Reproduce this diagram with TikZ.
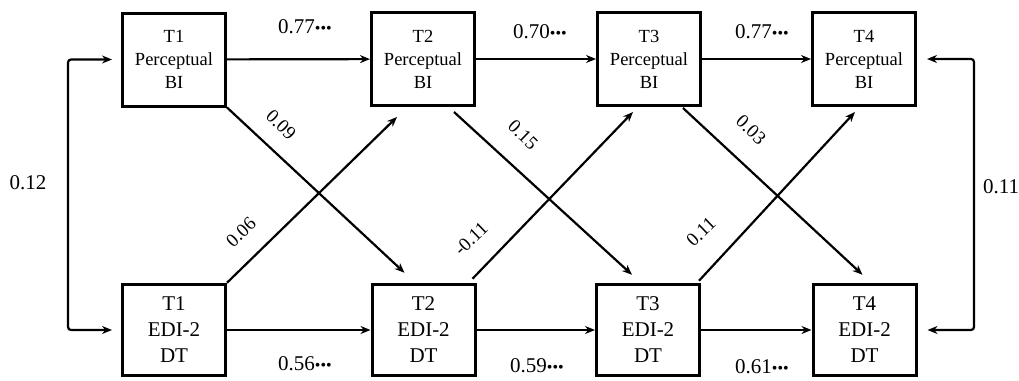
\documentclass[tikz,border=0pt]{standalone}
\usepackage{fontspec}
\setmainfont{Liberation Serif}
\usetikzlibrary{arrows.meta,calc}
\newcommand\sigdots{{\fontsize{16}{16}\selectfont •••}}
\begin{document}
\begin{tikzpicture}[x=1pt,y=-1pt,
  box/.style={draw,line width=3pt,minimum width=103pt,inner sep=0pt,align=center},
  topbox/.style={box,minimum height=93pt,font=\fontsize{18.5}{23}\selectfont},
  botbox/.style={box,minimum height=91.5pt,font=\fontsize{21}{26}\selectfont},
  arr/.style={line width=2.2pt,-{Stealth[length=10pt,width=8pt]}},
  darr/.style={line width=2.2pt,{Stealth[length=10pt,width=8pt]}-{Stealth[length=10pt,width=8pt]},rounded corners=3pt},
  coef/.style={font=\fontsize{21}{21}\selectfont,inner sep=0pt},
  dlab/.style={font=\fontsize{19}{19}\selectfont,inner sep=0pt}]
\useasboundingbox (0,0) rectangle (1019,380);
% boxes
\node[topbox] (T1t) at (174,59.5) {T1\\Perceptual\\BI};
\node[topbox] (T2t) at (423,59) {T2\\Perceptual\\BI};
\node[topbox] (T3t) at (649,59) {T3\\Perceptual\\BI};
\node[topbox] (T4t) at (864,59) {T4\\Perceptual\\BI};
\node[botbox] (T1b) at (174,330) {T1\\EDI-2\\DT};
\node[botbox] (T2b) at (423.5,330) {T2\\EDI-2\\DT};
\node[botbox] (T3b) at (648,330) {T3\\EDI-2\\DT};
\node[botbox] (T4b) at (864.5,330) {T4\\EDI-2\\DT};
% horizontal paths
\draw[arr] (T1t) -- (T2t);
\draw[arr] (T2t) -- (T3t);
\draw[arr] (T3t) -- (T4t);
\draw[arr] (T1b) -- (T2b);
\draw[arr] (T2b) -- (T3b);
\draw[arr] (T3b) -- (T4b);
% cross-lagged paths
\draw[arr] (T1t.south east) -- ([shift={(34,-10)}]T2b.north west);
\draw[arr] (T1b.north east) -- ([shift={(27,10)}]T2t.south west);
\draw[arr] ([shift={(-22,5)}]T2t.south east) -- ([shift={(37,-8)}]T3b.north west);
\draw[arr] ([shift={(-4,-4)}]T2b.north east) -- ([shift={(37,5)}]T3t.south west);
\draw[arr] ([shift={(-19,1)}]T3t.south east) -- ([shift={(51,-8)}]T4b.north west);
\draw[arr] ([shift={(-2,-2)}]T3b.north east) -- ([shift={(44,5)}]T4t.south west);
% correlations
\coordinate (Lm) at (68,195);
\coordinate (Rm) at (974,195);
\draw[darr] ([xshift=-9pt]T1t.west) -| (Lm) |- ([xshift=-9pt]T1b.west);
\draw[darr] ([xshift=10pt]T4t.east) -| (Rm) |- ([xshift=10pt]T4b.east);
% coefficients
\node[coef] (c1) at (305,27) {0.77\sigdots};
\node[coef] (c2) at (540,32) {0.70\sigdots};
\node[coef] (c3) at (762,32) {0.77\sigdots};
\node[coef] (c4) at (305,364) {0.56\sigdots};
\node[coef] (c5) at (537,366) {0.59\sigdots};
\node[coef] (c6) at (762,367) {0.61\sigdots};
\node[coef] (cl) at (28,183) {0.12};
\node[coef] (cr) at (1001,187) {0.11};
\node[dlab,rotate=-44] (d1) at (281,125) {0.09};
\node[dlab,rotate=44] (d2) at (241,232) {0.06};
\node[dlab,rotate=-44] (d3) at (523,135) {0.15};
\node[dlab,rotate=44] (d4) at (471,239) {-0.11};
\node[dlab,rotate=-44] (d5) at (751,130) {0.03};
\node[dlab,rotate=44] (d6) at (701,232) {0.11};
\end{tikzpicture}
\end{document}
